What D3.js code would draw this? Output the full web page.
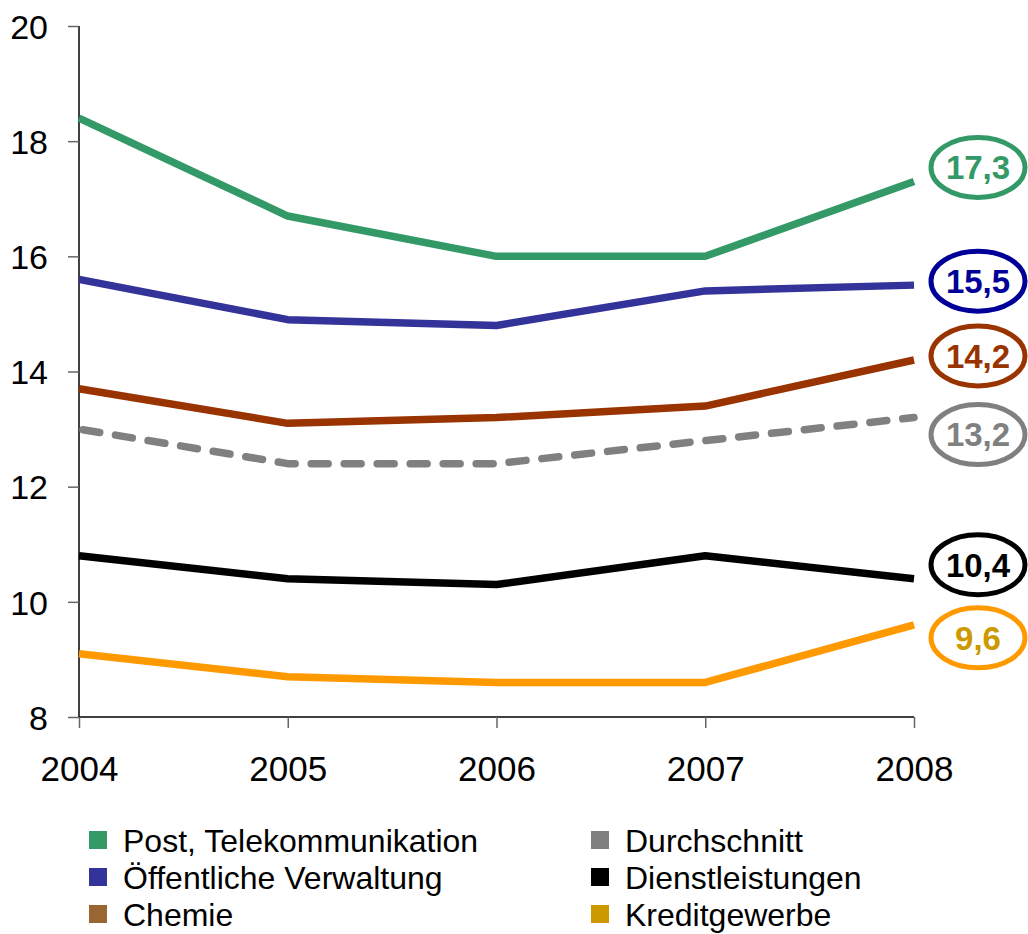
<!DOCTYPE html>
<html lang="de">
<head>
  <meta charset="UTF-8" />
  <title>Liniendiagramm 2004–2008</title>
  <style>
    body {
      margin: 0;
      background: #fff;
      font-family: Arial, "Liberation Sans", sans-serif;
    }
    svg { display: block; }
    .tick-label { font-size: 34px; fill: #000; }
    .x-label { font-size: 35px; }
    .legend-text { font-size: 32px; fill: #000; }
    .end-label { font-size: 33px; font-weight: bold; }
  </style>
</head>
<body>
  <svg width="1028" height="934"></svg>

  <script src="https://d3js.org/d3.v7.min.js"></script>
  <script>
    // data
    const years = [2004, 2005, 2006, 2007, 2008];
    const yTicks = [8, 10, 12, 14, 16, 18, 20];

    const seriesNames = [
      "Post, Telekommunikation",
      "Öffentliche Verwaltung",
      "Chemie",
      "Durchschnitt",
      "Dienstleistungen",
      "Kreditgewerbe"
    ];
    const postValues = [18.4, 16.7, 16.0, 16.0, 17.3];
    const verwaltungValues = [15.6, 14.9, 14.8, 15.4, 15.5];
    const chemieValues = [13.7, 13.1, 13.2, 13.4, 14.2];
    const durchschnittValues = [13.0, 12.4, 12.4, 12.8, 13.2];
    const dienstValues = [10.8, 10.4, 10.3, 10.8, 10.4];
    const kreditValues = [9.1, 8.7, 8.6, 8.6, 9.6];

    // colours: line, legend swatch, end label ring, end label text
    const lineColors = ["#339966", "#333399", "#993300", "#808080", "#000000", "#ff9900"];
    const swatchColors = ["#339966", "#333399", "#996633", "#808080", "#000000", "#cc9900"];
    const ringColors = ["#339966", "#000099", "#993300", "#808080", "#000000", "#ff9900"];
    const labelColors = ["#339966", "#000099", "#993300", "#808080", "#000000", "#cc9900"];
    // vertical nudges of the end labels so they do not overlap
    const labelNudge = [-14, -4, -4, 17, -14, 13];

    const allValues = [postValues, verwaltungValues, chemieValues,
                       durchschnittValues, dienstValues, kreditValues];
    const series = seriesNames.map((name, i) => ({ name, values: allValues[i], i }));

    const svg = d3.select("svg");
    const x = d3.scalePoint().domain(years).range([79, 914]);
    const y = d3.scaleLinear().domain([8, 20]).range([717, 26]);

    // y axis
    const yAxis = svg.append("g")
      .attr("transform", "translate(79,0)")
      .call(d3.axisLeft(y).tickValues(yTicks).tickSize(11).tickPadding(20));
    yAxis.select(".domain").attr("stroke", "#000").attr("stroke-width", 1.5)
      .attr("d", `M0,${y(20)}V${y(8)}`);
    yAxis.selectAll(".tick line").attr("stroke", "#666").attr("stroke-width", 1.5);
    yAxis.selectAll(".tick text").attr("class", "tick-label")
      .attr("font-family", null).attr("font-size", null)
      .attr("dy", "0.36em");

    // x axis
    const xAxis = svg.append("g")
      .attr("transform", "translate(0,717)")
      .call(d3.axisBottom(x).tickSize(11).tickPadding(28).tickFormat(d3.format("d")));
    xAxis.select(".domain").attr("stroke", "#000").attr("stroke-width", 1.5)
      .attr("d", `M${x(2004)},0H${x(2008)}`);
    xAxis.selectAll(".tick line").attr("stroke", "#666").attr("stroke-width", 1.5);
    xAxis.selectAll(".tick text").attr("class", "tick-label x-label")
      .attr("font-family", null).attr("font-size", null);

    // lines
    const line = d3.line()
      .x((d, j) => x(years[j]))
      .y(d => y(d));

    svg.append("g").selectAll("path")
      .data(series)
      .join("path")
      .attr("d", d => line(d.values))
      .attr("fill", "none")
      .attr("stroke", d => lineColors[d.i])
      .attr("stroke-width", 7.5)
      .attr("stroke-linejoin", "round")
      .attr("stroke-linecap", d => d.name === "Durchschnitt" ? "round" : "butt")
      .attr("stroke-dasharray", d => d.name === "Durchschnitt" ? "17,16" : null)
      .attr("stroke-dashoffset", d => d.name === "Durchschnitt" ? -4 : null);

    // end labels in rings
    const ends = svg.append("g").selectAll("g")
      .data(series)
      .join("g")
      .attr("transform", d =>
        `translate(978,${y(d.values[d.values.length - 1]) + labelNudge[d.i]})`);

    ends.append("ellipse")
      .attr("rx", 47)
      .attr("ry", 30)
      .attr("fill", "#fff")
      .attr("stroke", d => ringColors[d.i])
      .attr("stroke-width", 5);

    ends.append("text")
      .attr("class", "end-label")
      .attr("text-anchor", "middle")
      .attr("dy", "0.36em")
      .attr("fill", d => labelColors[d.i])
      .text(d => d3.format(".1f")(d.values[d.values.length - 1]).replace(".", ","));

    // legend, two columns of three
    const legend = svg.append("g").selectAll("g")
      .data(series)
      .join("g")
      .attr("transform", d =>
        `translate(${d.i < 3 ? 89 : 591},${840 + (d.i % 3) * 37})`);

    legend.append("rect")
      .attr("y", -9)
      .attr("width", 18)
      .attr("height", 18)
      .attr("fill", d => swatchColors[d.i]);

    legend.append("text")
      .attr("class", "legend-text")
      .attr("x", 34)
      .attr("dy", "0.36em")
      .text(d => d.name);
  </script>
</body>
</html>
